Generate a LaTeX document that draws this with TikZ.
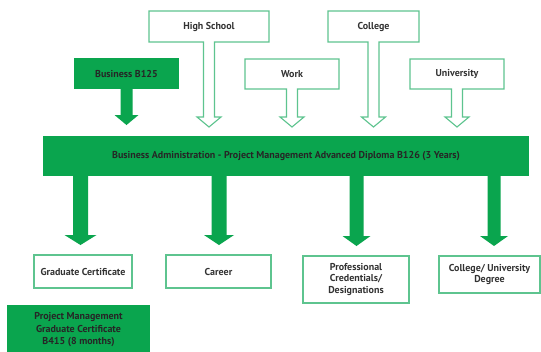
\documentclass[tikz,border=0pt]{standalone}
\usepackage{fontspec}
\setmainfont{PT Sans}
\usetikzlibrary{calc}
\definecolor{gr}{HTML}{0AA54E}
\definecolor{lgr}{HTML}{5EC48F}
\definecolor{txt}{HTML}{333333}
\tikzset{
 lbl/.style={font=\bfseries\fontsize{10}{11.5}\selectfont, text=txt, align=center, inner sep=0pt, outer sep=0pt},
 hbox/.style={lbl, draw=none},
 wbox/.style={lbl, draw=lgr, line width=1.1pt},
 gbox/.style={lbl, fill=gr, text=black!85},
 hollow/.style={draw=lgr, line width=1.1pt, line join=miter},
 fat/.style={fill=gr, draw=none},
}
\newcommand\hollowarrow[2]{%
 \draw[hollow] (#1.north west) -- (#1.north east) -- (#1.south east)
  -- ($(#1.south)+(5.5,0)$) -- ($(#1.south |- #2.north)+(5.5,-19)$)
  -- ($(#1.south |- #2.north)+(12,-19)$) -- ($(#1.south |- #2.north)+(0,-9)$)
  -- ($(#1.south |- #2.north)+(-12,-19)$) -- ($(#1.south |- #2.north)+(-5.5,-19)$)
  -- ($(#1.south)+(-5.5,0)$) -- (#1.south west) -- cycle;}
% #1 start coordinate, #2 tip coordinate, #3 stem half, #4 head half
\newcommand\fatarrow[4]{%
 \fill[fat] ($(#1)+(-#3,0)$) -- ($(#1)+(#3,0)$) -- ($(#2)+(#3,-10)$) -- ($(#2)+(#4,-10)$)
  -- (#2) -- ($(#2)+(-#4,-10)$) -- ($(#2)+(-#3,-10)$) -- cycle;}
\begin{document}
\begin{tikzpicture}[x=1pt,y=-1pt]
\path[use as bounding box, clip] (0,0) rectangle (541,351);
\fill[white] (0,0) rectangle (541,351);
% main bar
\node[gbox, minimum width=486pt, minimum height=40pt] (bar) at (286,156) {Business Administration - Project Management Advanced Diploma B126 (3 Years)};
% top boxes
\node[hbox, minimum width=120pt, minimum height=31pt] (hs) at (209,26.5) {High School};
\node[hbox, minimum width=91pt, minimum height=31pt] (col) at (373.5,26.5) {College};
\node[hbox, minimum width=94pt, minimum height=30pt] (work) at (292,74) {Work};
\node[hbox, minimum width=94pt, minimum height=30pt] (uni) at (457,74) {University};
\node[gbox, minimum width=105pt, minimum height=31pt] (bus) at (126.5,73.5) {Business B125};
\hollowarrow{hs}{bar}
\hollowarrow{col}{bar}
\hollowarrow{work}{bar}
\hollowarrow{uni}{bar}
\coordinate (bustip) at ($(bus.south |- bar.north)+(0,-11)$);
\fatarrow{bus.south}{bustip}{6}{12}
% bottom boxes
\node[wbox, minimum width=98pt, minimum height=33pt] (gc) at (83,271.5) {Graduate Certificate};
\node[wbox, minimum width=105pt, minimum height=33pt] (car) at (218.5,271.5) {Career};
\node[wbox, minimum width=106pt, minimum height=47pt] (pro) at (356,279.5) {Professional\\Credentials/\\Designations};
\node[wbox, minimum width=101pt, minimum height=37pt] (cud) at (489.5,274.5) {College/ University\\Degree};
\node[gbox, font=\bfseries\fontsize{10}{12.5}\selectfont, minimum width=143pt, minimum height=50pt] (pm) at (78.5,330) {Project Management\\Graduate Certificate\\B415 (8 months)};
\coordinate (t1) at ($(gc.north)+(-2.5,-10)$);
\coordinate (t2) at ($(car.north)+(0.5,-10)$);
\coordinate (t3) at ($(pro.north)+(0.5,-10)$);
\coordinate (t4) at ($(cud.north)+(4.5,-10)$);
\fatarrow{t1 |- bar.south}{t1}{7.5}{16}
\fatarrow{t2 |- bar.south}{t2}{7.5}{15}
\fatarrow{t3 |- bar.south}{t3}{7}{14}
\fatarrow{t4 |- bar.south}{t4}{6.5}{14}
\end{tikzpicture}
\end{document}
